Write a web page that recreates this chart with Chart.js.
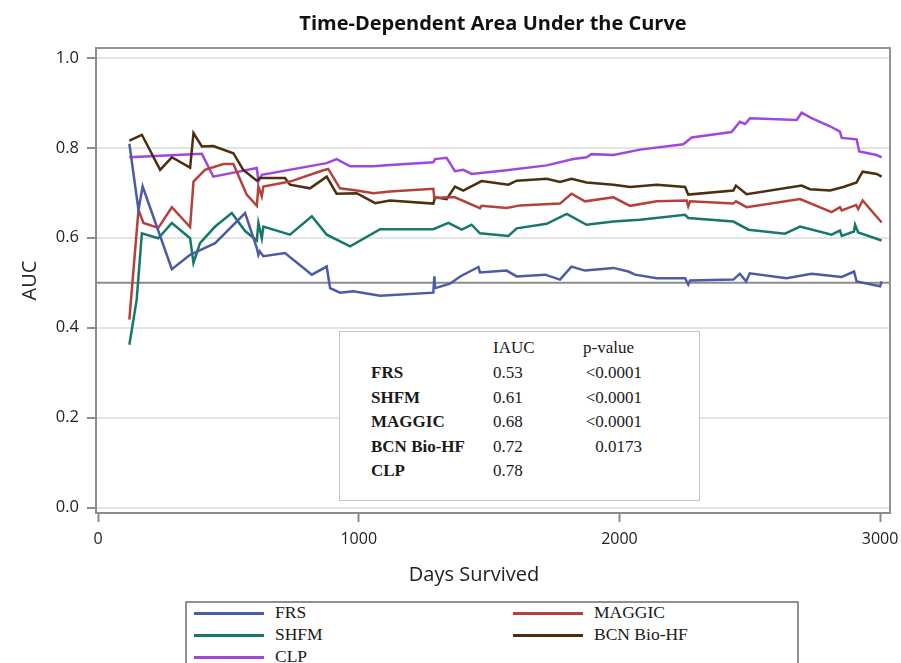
<!DOCTYPE html>
<html><head><meta charset="utf-8">
<script src="https://cdn.jsdelivr.net/npm/chart.js@4"></script>
<style>
html,body{margin:0;padding:0;background:#fff;}
#wrap{position:relative;width:901px;height:663px;overflow:hidden;}
#c{position:absolute;left:0;top:0;}
.serif{font-family:"Liberation Serif","DejaVu Serif",serif;color:#1a1a1a;}
#tbl{position:absolute;left:339px;top:331px;width:361px;height:170px;border:1px solid #c4c4c4;box-sizing:border-box;background:#fff;}
.cell{position:absolute;font-size:17px;line-height:20px;white-space:nowrap;}
#leg{position:absolute;left:185px;top:601px;width:614px;height:90px;border:2px solid #8f8f8f;box-sizing:border-box;background:#fff;}
.item{position:absolute;font-size:17.5px;line-height:20px;white-space:nowrap;}
.swatch{position:absolute;height:3px;width:70px;}
#xtitle{position:absolute;left:374px;width:200px;top:562px;text-align:center;font-family:"Open Sans",sans-serif;font-size:20px;line-height:24px;color:#222;white-space:nowrap;}
</style></head>
<body>
<div id="wrap">
<canvas id="c" width="901" height="663"></canvas>
<div id="xtitle"></div>
<div id="tbl" class="serif"></div>
<div id="leg" class="serif"></div>
</div>
<script>
const seriesNames = ['FRS','SHFM','MAGGIC','BCN Bio-HF','CLP'];
const seriesColors = ['#4b5ba6','#17786a','#b6403a','#4c2e10','#9e48de'];

const frsDays = [120,155,171,283,353,449,564,609,615,620,634,717,820,877,890,928,979,1082,1286,1290,1293,1350,1389,1459,1465,1567,1606,1715,1772,1816,1868,1977,2034,2060,2143,2252,2264,2271,2437,2462,2486,2500,2641,2737,2853,2900,2910,3000,3006];
const frsAuc  = [0.809,0.662,0.714,0.530,0.562,0.588,0.655,0.577,0.562,0.570,0.559,0.566,0.518,0.536,0.488,0.478,0.481,0.471,0.478,0.514,0.488,0.498,0.514,0.535,0.523,0.527,0.514,0.518,0.507,0.536,0.527,0.533,0.525,0.518,0.510,0.510,0.496,0.505,0.507,0.520,0.503,0.521,0.510,0.520,0.513,0.525,0.503,0.492,0.503];

const shfmDays = [120,148,168,231,283,353,366,391,449,513,564,609,615,628,634,736,820,877,967,1082,1286,1344,1395,1433,1465,1574,1606,1721,1798,1874,1977,2079,2252,2264,2437,2495,2635,2693,2814,2846,2853,2900,2904,2916,3006];
const shfmAuc  = [0.362,0.462,0.610,0.599,0.633,0.599,0.544,0.588,0.625,0.655,0.615,0.594,0.633,0.599,0.625,0.607,0.648,0.607,0.581,0.619,0.619,0.633,0.618,0.629,0.610,0.604,0.621,0.631,0.653,0.629,0.636,0.640,0.651,0.644,0.636,0.618,0.609,0.625,0.607,0.616,0.604,0.614,0.629,0.612,0.594];

const maggicDays = [120,155,174,231,283,353,366,410,481,519,570,609,615,628,634,736,864,883,928,992,1056,1120,1286,1290,1337,1369,1465,1471,1567,1619,1772,1816,1868,1977,2041,2143,2258,2264,2271,2437,2447,2488,2693,2814,2846,2853,2908,2916,2933,3006];
const maggicAuc  = [0.418,0.662,0.633,0.622,0.668,0.624,0.725,0.751,0.764,0.764,0.696,0.671,0.714,0.692,0.714,0.725,0.750,0.753,0.710,0.705,0.699,0.703,0.709,0.688,0.690,0.690,0.666,0.671,0.666,0.672,0.676,0.698,0.681,0.690,0.671,0.681,0.683,0.670,0.681,0.676,0.681,0.668,0.686,0.657,0.668,0.661,0.673,0.664,0.683,0.634];

const bcnDays = [120,168,238,283,353,366,398,442,519,557,609,621,717,736,813,877,915,992,1063,1120,1286,1293,1337,1369,1401,1471,1574,1606,1721,1772,1816,1874,1977,2041,2143,2252,2264,2437,2447,2488,2699,2731,2808,2859,2910,2916,2933,2987,3006];
const bcnAuc  = [0.816,0.829,0.751,0.779,0.756,0.833,0.803,0.804,0.788,0.751,0.727,0.733,0.733,0.718,0.710,0.736,0.698,0.699,0.677,0.683,0.676,0.690,0.686,0.714,0.705,0.726,0.718,0.727,0.731,0.724,0.731,0.723,0.718,0.713,0.718,0.713,0.696,0.705,0.716,0.697,0.716,0.708,0.705,0.713,0.723,0.730,0.747,0.742,0.736];

const clpDays = [120,398,442,609,615,628,877,915,967,1056,1120,1286,1293,1337,1369,1401,1433,1567,1721,1823,1874,1893,1977,2079,2245,2277,2430,2462,2482,2501,2680,2699,2737,2808,2846,2853,2910,2920,2987,3006];
const clpAuc  = [0.779,0.787,0.736,0.755,0.725,0.740,0.766,0.775,0.759,0.759,0.762,0.768,0.775,0.778,0.748,0.751,0.742,0.750,0.761,0.775,0.779,0.786,0.784,0.796,0.808,0.823,0.835,0.858,0.853,0.866,0.862,0.878,0.866,0.848,0.836,0.822,0.819,0.792,0.784,0.779];

const yTicks = [0,0.2,0.4,0.6,0.8,1.0];
const xTicks = [0,1000,2000,3000];
const refLine = 0.5;
const xTitle = 'Days Survived';

const tableNames = ['FRS','SHFM','MAGGIC','BCN Bio-HF','CLP'];
const tableIauc = ['0.53','0.61','0.68','0.72','0.78'];
const tablePvalues = ['<0.0001','<0.0001','<0.0001','0.0173',''];

const allDays = [frsDays, shfmDays, maggicDays, bcnDays, clpDays];
const allAuc = [frsAuc, shfmAuc, maggicAuc, bcnAuc, clpAuc];

const datasets = seriesNames.map((n,k)=>({
  label:n,
  data: allDays[k].map((d,i)=>({x:d,y:allAuc[k][i]})),
  borderColor: seriesColors[k], backgroundColor: seriesColors[k],
  borderWidth:2.5, pointRadius:0, tension:0, fill:false
}));

const framePlugin = {
  id:'frame',
  beforeDatasetsDraw(chart){
    const {ctx, chartArea:a, scales:{y}} = chart;
    ctx.save();
    const py = y.getPixelForValue(refLine);
    ctx.strokeStyle = '#8c8c8c'; ctx.lineWidth = 2;
    ctx.beginPath(); ctx.moveTo(a.left, py); ctx.lineTo(a.right, py); ctx.stroke();
    ctx.strokeStyle = '#939393'; ctx.lineWidth = 2;
    ctx.beginPath(); ctx.moveTo(a.left, a.top); ctx.lineTo(a.right, a.top); ctx.lineTo(a.right, a.bottom); ctx.stroke();
    ctx.restore();
  }
};

const axFont = {family:'"Open Sans", sans-serif', size:16};
new Chart(document.getElementById('c'), {
  type:'line',
  data:{datasets},
  options:{
    responsive:false, animation:false,
    layout:{padding:{left:0,right:11,top:0,bottom:0}},
    plugins:{
      legend:{display:false}, tooltip:{enabled:false},
      title:{display:true, text:'Time-Dependent Area Under the Curve', fullSize:false, color:'#111',
        font:{family:'"Open Sans", sans-serif', size:20, weight:'bold'}, padding:{top:12,bottom:12}}
    },
    scales:{
      x:{type:'linear', min:-8, max:3038,
        afterBuildTicks:s=>{s.ticks = xTicks.map(v=>({value:v}));},
        afterFit:s=>{s.height = 150; s.paddingLeft = 0; s.paddingRight = 0;},
        grid:{drawOnChartArea:false, tickColor:'#8c8c8c', tickWidth:2, tickLength:9},
        border:{color:'#8c8c8c', width:2},
        ticks:{font:axFont, color:'#222', padding:8, maxRotation:0, autoSkip:false, callback:v=>String(v)},
        title:{display:false}
      },
      y:{type:'linear', min:-0.012, max:1.022,
        afterBuildTicks:s=>{s.ticks = yTicks.map(v=>({value:v}));},
        afterFit:s=>{s.width = 96; s.paddingTop = 0; s.paddingBottom = 0;},
        grid:{color:'#e4e4e4', lineWidth:2, tickColor:'#8c8c8c', tickWidth:2, tickLength:9},
        border:{color:'#8c8c8c', width:2},
        ticks:{font:{family:'"Open Sans", sans-serif', size:16.5}, color:'#222', padding:8, autoSkip:false, callback:v=>Number(v).toFixed(1)},
        title:{display:true, text:'AUC', color:'#222', font:{family:'"Open Sans", sans-serif', size:20}, padding:{top:18,bottom:0}}
      }
    }
  },
  plugins:[framePlugin]
});

document.getElementById('xtitle').textContent = xTitle;

// inset statistics table
const tbl = document.getElementById('tbl');
function addCell(parent, cls, text, left, top, extra){
  const d = document.createElement('div');
  d.className = cls; d.textContent = text;
  d.style.left = left+'px'; d.style.top = top+'px';
  if (extra) Object.assign(d.style, extra);
  parent.appendChild(d); return d;
}
addCell(tbl,'cell','IAUC',153,6);
addCell(tbl,'cell','p-value',243,6);
tableNames.forEach((n,i)=>{
  const top = 31 + i*24.6;
  addCell(tbl,'cell',n,31,top,{fontWeight:'bold'});
  addCell(tbl,'cell',tableIauc[i],153,top);
  if (tablePvalues[i]) addCell(tbl,'cell',tablePvalues[i],0,top,{left:'auto',right:(699-642)+'px'});
});

// legend box
const leg = document.getElementById('leg');
const legCols = [[0,1,4],[2,3]];
const colX = [7,326];
legCols.forEach((col,c)=>{
  col.forEach((k,r)=>{
    const cy = 10 + r*22;
    const sw = document.createElement('div');
    sw.className='swatch'; sw.style.background = seriesColors[k];
    sw.style.left = colX[c]+'px'; sw.style.top = (cy-1.5)+'px';
    leg.appendChild(sw);
    addCell(leg,'item',seriesNames[k],colX[c]+81,cy-11);
  });
});
</script>
</body></html>
